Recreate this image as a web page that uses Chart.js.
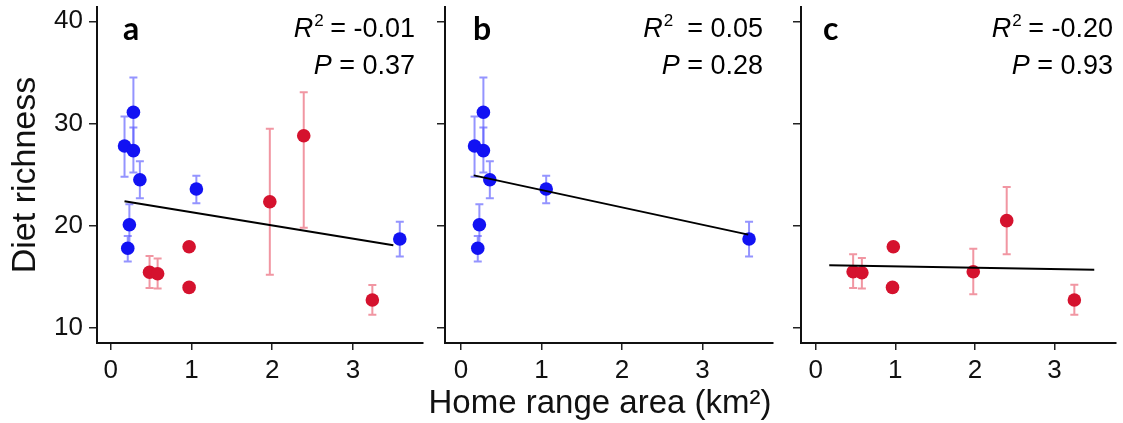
<!DOCTYPE html>
<html>
<head>
<meta charset="utf-8">
<script src="https://cdn.jsdelivr.net/npm/chart.js@4.4.1/dist/chart.umd.min.js"></script>
<style>
    html, body { margin: 0; padding: 0; background: #ffffff; }
    #wrap { position: relative; width: 1123px; height: 423px; overflow: hidden; }
    .panel { position: absolute; top: 0; height: 423px; }
</style>
</head>
<body>
<div id="wrap">
    <div class="panel" style="left:0px;width:430px"><canvas id="grafico-a"></canvas></div>
    <div class="panel" style="left:430px;width:350px"><canvas id="grafico-b"></canvas></div>
    <div class="panel" style="left:780px;width:343px"><canvas id="grafico-c"></canvas></div>
</div>
<script>
// eixos
const yTicks = [10, 20, 30, 40];
const xTicks = [0, 1, 2, 3];
const panelLetters = ['a', 'b', 'c'];
const statR2 = ['-0.01', '0.05', '-0.20'];
const statP = ['0.37', '0.28', '0.93'];

// grupo azul (paineis a e b)
const blueX  = [0.17, 0.28, 0.28, 0.36, 1.06, 0.23, 0.21, 3.58];
const blueY  = [27.8, 31.1, 27.35, 24.5, 23.6, 20.1, 17.8, 18.7];
const blueLo = [24.8, 27.7, 25.2, 22.7, 22.2, 18.1, 16.5, 17.0];
const blueHi = [30.7, 34.5, 29.6, 26.3, 24.9, 22.1, 19.0, 20.4];

// grupo vermelho, painel a
const redAX  = [0.48, 0.58, 0.97, 0.97, 1.97, 2.39, 3.24];
const redAY  = [15.45, 15.3, 17.95, 13.97, 22.35, 28.8, 12.74];
const redALo = [13.9, 13.85, null, null, 15.2, 19.8, 11.3];
const redAHi = [17.05, 16.8, null, null, 29.5, 33.05, 14.2];

// grupo vermelho, painel c
const redCX  = [0.47, 0.58, 0.975, 0.965, 1.98, 2.4, 3.25];
const redCY  = [15.5, 15.4, 17.95, 13.97, 15.5, 20.5, 12.74];
const redCLo = [13.9, 13.85, null, null, 13.3, 17.2, 11.3];
const redCHi = [17.2, 16.85, null, null, 17.75, 23.8, 14.24];

// retas de regressao
const fitAX = [0.17, 3.5],  fitAY = [22.4, 18.1];
const fitBX = [0.16, 3.57], fitBY = [24.93, 19.13];
const fitCX = [0.17, 3.5],  fitCY = [16.13, 15.7];

const BLUE = '#1212f3';
const RED = '#d5122e';
const FONT = '"Liberation Sans", Arial, sans-serif';

function pts(xs, ys) {
    return xs.map((x, i) => ({ x: x, y: ys[i] }));
}

function pointSet(xs, ys, lo, hi, color, errColor) {
    return {
        data: pts(xs, ys),
        errLo: lo, errHi: hi, errColor: errColor,
        backgroundColor: color,
        borderWidth: 0,
        pointRadius: 6.8,
        showLine: false,
        order: 1
    };
}

function fitSet(xs, ys) {
    return {
        data: pts(xs, ys),
        showLine: true,
        borderColor: '#000000',
        borderWidth: 2,
        pointRadius: 0,
        order: 0
    };
}

// barras de erro desenhadas atras dos pontos
const errorBars = {
    id: 'errorBars',
    beforeDatasetsDraw(chart) {
        const ctx = chart.ctx, xs = chart.scales.x, ys = chart.scales.y;
        chart.data.datasets.forEach(ds => {
            if (!ds.errLo) return;
            ctx.save();
            ctx.strokeStyle = ds.errColor;
            ctx.lineWidth = 2;
            ds.data.forEach((p, i) => {
                if (ds.errLo[i] == null) return;
                const x = xs.getPixelForValue(p.x);
                const y1 = ys.getPixelForValue(ds.errLo[i]);
                const y2 = ys.getPixelForValue(ds.errHi[i]);
                ctx.beginPath();
                ctx.moveTo(x, y1); ctx.lineTo(x, y2);
                ctx.moveTo(x - 4, y1); ctx.lineTo(x + 4, y1);
                ctx.moveTo(x - 4, y2); ctx.lineTo(x + 4, y2);
                ctx.stroke();
            });
            ctx.restore();
        });
    }
};

// letra do painel, R2 e P
const panelText = {
    id: 'panelText',
    afterDraw(chart, args, opts) {
        const ctx = chart.ctx;
        const i = opts.idx;
        ctx.save();
        ctx.fillStyle = '#000000';
        ctx.textBaseline = 'alphabetic';
        ctx.textAlign = 'left';
        ctx.font = 'bold 32px Lato, "Open Sans", sans-serif';
        ctx.fillText(panelLetters[i], opts.letterX, 40);

        const big = '27px ' + FONT, ital = 'italic 27px ' + FONT, sup = '17px ' + FONT;
        // linha 1
        const rest1 = (i === 1 ? '  = ' : ' = ') + statR2[i];
        ctx.font = ital; const wR = ctx.measureText('R').width;
        ctx.font = sup; const w2 = ctx.measureText('2').width;
        ctx.font = big; const w3 = ctx.measureText(rest1).width;
        let x = opts.statRight - (wR + w2 + w3);
        ctx.font = ital; ctx.fillText('R', x, 37); x += wR + 1;
        ctx.font = sup; ctx.fillText('2', x, 26); x += w2 - 1;
        ctx.font = big; ctx.fillText(rest1, x, 37);
        // linha 2
        const rest2 = ' = ' + statP[i];
        ctx.font = ital; const wP = ctx.measureText('P').width;
        ctx.font = big; const w4 = ctx.measureText(rest2).width;
        x = opts.statRight - (wP + w4);
        ctx.font = ital; ctx.fillText('P', x, 74); x += wP;
        ctx.font = big; ctx.fillText(rest2, x, 74);

        if (opts.xTitle) {
            ctx.font = '33px ' + FONT;
            ctx.textAlign = 'center';
            ctx.fillStyle = '#111111';
            ctx.fillText('Home range area (km\u00b2)', opts.xTitle, 413);
        }
        ctx.restore();
    }
};

function makePanel(id, idx, datasets, cfg) {
    const ctx = document.getElementById(id).getContext('2d');
    return new Chart(ctx, {
        type: 'scatter',
        data: { datasets: datasets },
        options: {
            responsive: true,
            maintainAspectRatio: false,
            animation: false,
            events: [],
            layout: { padding: { top: 7, right: cfg.padRight, left: 0, bottom: 0 } },
            plugins: {
                legend: { display: false },
                tooltip: { enabled: false },
                panelText: { idx: idx, letterX: cfg.letterX, statRight: cfg.statRight, xTitle: cfg.xTitle }
            },
            scales: {
                x: {
                    type: 'linear',
                    min: cfg.xMin, max: cfg.xMax,
                    afterBuildTicks: s => { s.ticks = xTicks.map(v => ({ value: v })); },
                    afterFit: s => { s.height = 80; s.paddingLeft = 0; s.paddingRight = 0; },
                    grid: { drawOnChartArea: false, drawTicks: true, tickLength: 7, color: '#222222', lineWidth: 1.5 },
                    border: { display: true, color: '#111111', width: 2 },
                    ticks: { color: '#111111', font: { family: FONT, size: 26 }, padding: 5, maxRotation: 0, autoSkip: false }
                },
                y: {
                    type: 'linear',
                    min: 8.53, max: 41.4,
                    afterBuildTicks: s => { s.ticks = yTicks.map(v => ({ value: v })); },
                    afterFit: s => { s.width = cfg.yWidth; s.paddingTop = 0; s.paddingBottom = 0; },
                    grid: { drawOnChartArea: false, drawTicks: true, tickLength: 8, color: '#222222', lineWidth: 1.5 },
                    border: { display: true, color: '#111111', width: 2 },
                    ticks: { display: cfg.showY, color: '#111111', font: { family: FONT, size: 26 }, padding: 6 },
                    title: {
                        display: cfg.showY, text: 'Diet richness', color: '#111111',
                        font: { family: FONT, size: 34 }, padding: { top: 5, bottom: 0 }
                    }
                }
            }
        },
        plugins: [errorBars, panelText]
    });
}

document.addEventListener('DOMContentLoaded', function () {
    makePanel('grafico-a', 0, [
        fitSet(fitAX, fitAY),
        pointSet(blueX, blueY, blueLo, blueHi, BLUE, 'rgba(90,90,255,0.65)'),
        pointSet(redAX, redAY, redALo, redAHi, RED, 'rgba(232,80,100,0.6)')
    ], { xMin: -0.171, xMax: 3.87, yWidth: 97, showY: true, padRight: 3, letterX: 123, statRight: 415 });

    makePanel('grafico-b', 1, [
        fitSet(fitBX, fitBY),
        pointSet(blueX, blueY, blueLo, blueHi, BLUE, 'rgba(90,90,255,0.65)')
    ], { xMin: -0.197, xMax: 3.88, yWidth: 15, showY: false, padRight: 3, letterX: 43, statRight: 333, xTitle: 170 });

    makePanel('grafico-c', 2, [
        fitSet(fitCX, fitCY),
        pointSet(redCX, redCY, redCLo, redCHi, RED, 'rgba(232,80,100,0.6)')
    ], { xMin: -0.185, xMax: 3.776, yWidth: 21, showY: false, padRight: 0, letterX: 43, statRight: 333 });
});
</script>
</body>
</html>
